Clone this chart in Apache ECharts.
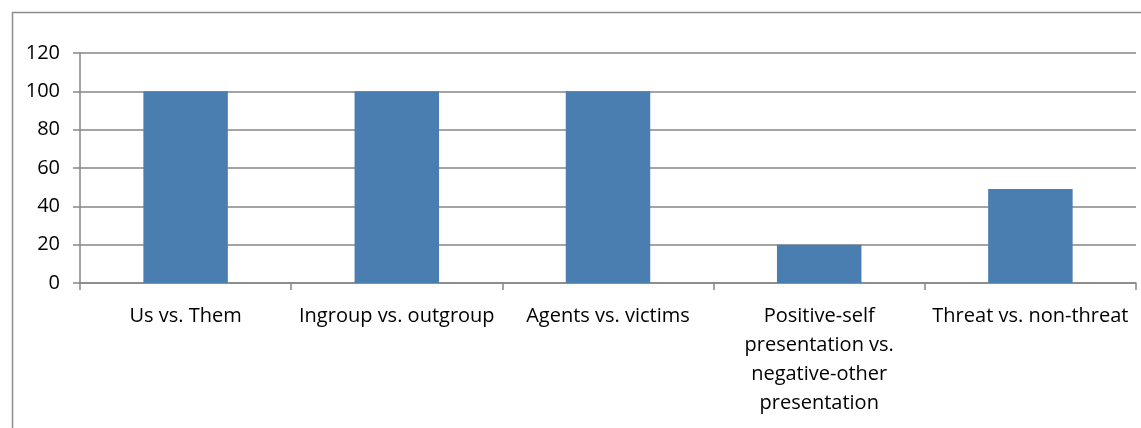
<!DOCTYPE html>
<html>
<head>
<meta charset="utf-8">
<script src="https://cdn.jsdelivr.net/npm/echarts@6/dist/echarts.min.js"></script>
<style>html,body{margin:0;padding:0;background:#fff;}#c{width:1141px;height:428px;}</style>
</head>
<body>
<div id="c"></div>
<script>
var categories = ["Us vs. Them", "Ingroup vs. outgroup", "Agents vs. victims", "Positive-self\npresentation vs.\nnegative-other\npresentation", "Threat vs. non-threat"];
var values = [100, 100, 100, 20, 49];
var yTicks = {min: 0, max: 120, interval: 20};

var chart = echarts.init(document.getElementById('c'), null, {renderer: 'canvas'});
var font = '"Open Sans", "Noto Sans", sans-serif';
chart.setOption({
  animation: false,
  graphic: [{
    type: 'rect', left: 10, top: 10, z: -1,
    shape: {width: 1200, height: 500},
    style: {fill: 'none', stroke: '#8c8c8c', lineWidth: 1.5}
  }],
  grid: {left: 80, right: 5, top: 53, bottom: 145, containLabel: false},
  xAxis: {
    type: 'category', data: categories,
    axisLine: {show: true, lineStyle: {color: '#868686', width: 1.5}},
    axisTick: {show: true, length: 7, alignWithLabel: false, lineStyle: {color: '#868686', width: 1.5}},
    axisLabel: {interval: 0, color: '#000', fontFamily: font, fontSize: 20, lineHeight: 29, margin: 19}
  },
  yAxis: {
    type: 'value', min: yTicks.min, max: yTicks.max, interval: yTicks.interval,
    axisLine: {show: true, lineStyle: {color: '#868686', width: 1.5}},
    axisTick: {show: true, length: 7, lineStyle: {color: '#868686', width: 1.5}},
    splitLine: {show: true, lineStyle: {color: '#868686', width: 1.5}},
    axisLabel: {color: '#000', fontFamily: font, fontSize: 20, margin: 20}
  },
  series: [{
    type: 'bar', data: values, barWidth: '40%',
    itemStyle: {color: '#4A7EB0'}
  }]
});
</script>
</body>
</html>
